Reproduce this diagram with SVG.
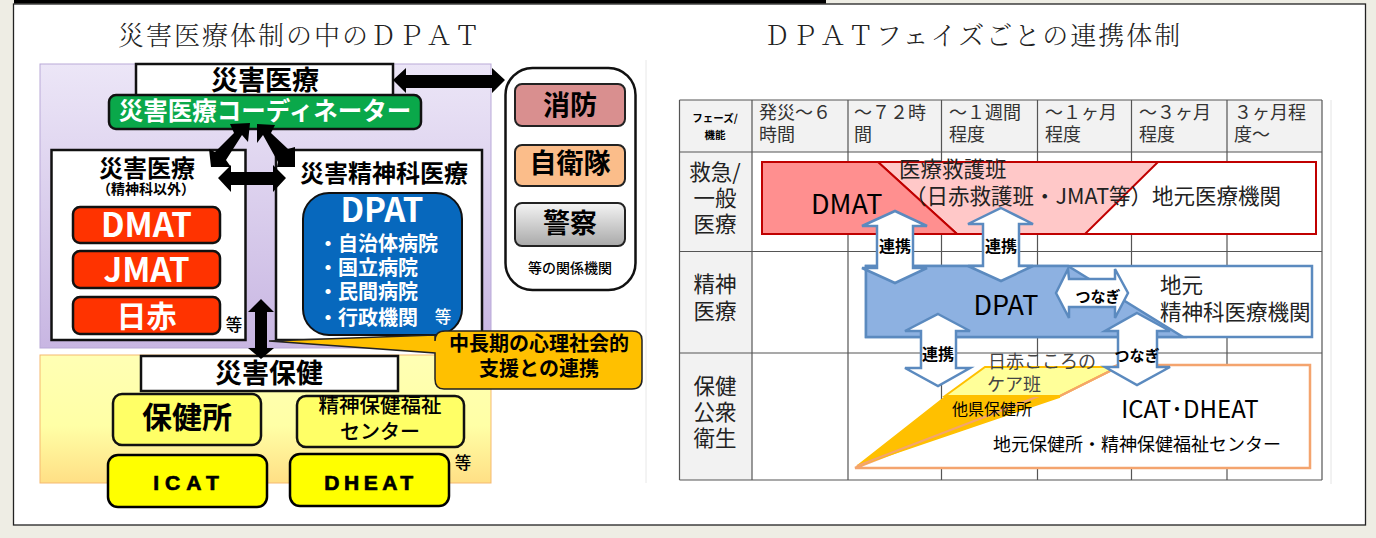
<svg xmlns="http://www.w3.org/2000/svg" width="1376" height="538" viewBox="0 0 1376 538">
<defs>
<linearGradient id="gp" x1="0" y1="0" x2="0" y2="1"><stop offset="0" stop-color="#ece6f7"/><stop offset="1" stop-color="#c8b6e2"/></linearGradient>
<linearGradient id="gy" x1="0" y1="0" x2="0" y2="1"><stop offset="0" stop-color="#ffffb4"/><stop offset="0.55" stop-color="#ffffa6"/><stop offset="1" stop-color="#ffdf85"/></linearGradient>
<linearGradient id="gg" x1="0" y1="0" x2="0" y2="1"><stop offset="0" stop-color="#f4f4f4"/><stop offset="1" stop-color="#a9a9a9"/></linearGradient>
</defs>
<style>
text{font-family:"Noto Sans CJK JP","Noto Sans",sans-serif;text-anchor:middle;fill:#000}
.b{font-weight:700}
.t{font-size:26px;font-weight:300;letter-spacing:2px;fill:#222;font-family:"Noto Serif CJK JP","Noto Sans CJK JP",serif}
.w{fill:#fff;font-weight:700}
.box{fill:#fff;stroke:#111;stroke-width:2.5}
.red{fill:#ff3300;stroke:#111;stroke-width:2.5}
.yl{fill:#ffff66;stroke:#111;stroke-width:2.5}
.yy{fill:#ffff00;stroke:#000;stroke-width:2.5}
.grid{stroke:#555;stroke-width:1.2;fill:none}
.h{font-size:18px;text-anchor:start;fill:#333;font-weight:400}
.r{font-size:21.500px;fill:#222;font-weight:400}
.ar{fill:#fff;stroke:#5b8abf;stroke-width:2.5}
.l{font-size:21.500px;fill:#222;font-weight:400;text-anchor:start}
.k{fill:#000}
.s{stroke:#000;stroke-width:.7}
</style>
<rect width="1376" height="538" fill="#eeede4"/>
<rect x="13.500" y="4" width="1352" height="521" fill="#fff" stroke="#222" stroke-width="1.300"/>
<rect x="14" y="0" width="812" height="3.500" fill="#000"/>
<line x1="646" y1="60" x2="646" y2="483" stroke="#e8e8e8"/>
<line x1="1331" y1="100" x2="1331" y2="484" stroke="#e4e4e4"/>
<text x="300" y="45" class="t">災害医療体制の中のＤＰＡＴ</text>
<text x="973" y="45" class="t">ＤＰＡＴフェイズごとの連携体制</text>

<g id="panel-medical"><rect x="40" y="64" width="451" height="284" fill="url(#gp)" stroke="#b9a9d8"/></g>
<g id="panel-health"><rect x="40" y="355" width="451" height="128" fill="url(#gy)" stroke="#f5b970"/></g>

<g id="node-saigai-iryo"><rect x="136" y="64" width="257" height="32" class="box"/><text x="265" y="90" font-size="27" class="b">災害医療</text></g>
<g id="node-coordinator"><rect x="109" y="95" width="312" height="34" rx="7" fill="#0aa84a" stroke="#111" stroke-width="2.500"/><text x="265" y="120" font-size="24.500" class="w">災害医療コーディネーター</text></g>

<g id="node-general"><rect x="51.500" y="150" width="194" height="190" class="box"/>
<text x="147" y="177" font-size="24" class="b">災害医療</text><text x="146" y="194" font-size="14" class="b">（精神科以外）</text></g>
<g id="node-dmat"><rect x="73" y="207" width="147" height="36" rx="7" class="red"/><text x="146.500" y="237" font-size="33" class="w">DMAT</text></g>
<g id="node-jmat"><rect x="73" y="251" width="147" height="37" rx="7" class="red"/><text x="146.500" y="282" font-size="33" class="w">JMAT</text></g>
<g id="node-nisseki"><rect x="73" y="297" width="147" height="37" rx="7" class="red"/><text x="146.500" y="327" font-size="30" class="w">日赤</text></g>
<text x="234" y="331" font-size="16.500" fill="#222" font-weight="500">等</text>

<g id="node-psy"><rect x="276" y="150" width="206" height="190" class="box"/><text x="384" y="182" font-size="24" class="b">災害精神科医療</text></g>
<g id="node-dpat"><rect x="303" y="193" width="159" height="142" rx="26" fill="#0768bd" stroke="#111" stroke-width="2"/>
<text x="382" y="222" font-size="33" class="w">DPAT</text>
<g font-size="20" class="w"><text x="318" y="251" style="text-anchor:start;fill:#fff">・自治体病院</text><text x="318" y="275" style="text-anchor:start;fill:#fff">・国立病院</text><text x="318" y="299" style="text-anchor:start;fill:#fff">・民間病院</text><text x="318" y="325" style="text-anchor:start;fill:#fff">・行政機関</text></g>
<text x="443" y="323" font-size="16.500" class="w" style="font-weight:500">等</text></g>

<g id="node-others"><rect x="505.500" y="68" width="130" height="222" rx="27" class="box" stroke-width="2"/>
<text x="570" y="273" font-size="14" class="b" fill="#222" style="font-weight:500">等の関係機関</text></g>
<g id="node-fire"><rect x="515" y="84" width="110" height="42" rx="7" fill="#d98f8f" stroke="#222" stroke-width="2"/><text x="570" y="115" font-size="27" class="b">消防</text></g>
<g id="node-sdf"><rect x="515" y="145" width="110" height="41" rx="7" fill="#fbbd8a" stroke="#222" stroke-width="2"/><text x="570" y="173" font-size="27" class="b">自衛隊</text></g>
<g id="node-police"><rect x="515" y="203" width="110" height="43" rx="7" fill="url(#gg)" stroke="#222" stroke-width="2"/><text x="570" y="233" font-size="27" class="b">警察</text></g>

<g id="node-hoken"><rect x="141" y="356" width="257" height="35" class="box"/><text x="269" y="383" font-size="27" class="b">災害保健</text></g>
<g id="node-hokenjo"><rect x="113" y="394" width="148" height="51" rx="9" class="yl"/><text x="187" y="428" font-size="30" class="b">保健所</text></g>
<g id="node-center"><rect x="297" y="396" width="167" height="51" rx="9" class="yl"/><text x="380" y="413" font-size="20.500" style="font-weight:500">精神保健福祉</text><text x="380" y="439" font-size="20" style="font-weight:500">センター</text></g>
<g id="node-icat"><rect x="108" y="455" width="159" height="52" rx="10" class="yy"/><text x="189" y="490" font-size="21" class="b s" letter-spacing="6" style="font-family:'Liberation Sans',sans-serif">ICAT</text></g>
<g id="node-dheat"><rect x="290" y="454" width="159" height="52" rx="10" class="yy"/><text x="371" y="490" font-size="21" class="b s" letter-spacing="4.500" style="font-family:'Liberation Sans',sans-serif">DHEAT</text></g>
<text x="463" y="469" font-size="16.500" fill="#222" font-weight="500">等</text>

<g id="connectors-left">
<polygon class="k" points="393,80 406,68 406,75 492,75 492,68 505,80 492,93 492,88 406,88 406,93"/>
<polygon class="k" points="230,124 250,123 248,142 242,135 226,160 231,167 211,167 209,149 215,152 234,133"/>
<polygon class="k" points="257,124 275,125 271,133 288,149 295,147 295,167 277,167 278,162 263,135 257,143"/>
<polygon class="k" points="218,178 231,165 231,172 273,172 273,165 286,178 273,192 273,185 231,185 231,192"/>
<polygon class="k" points="261,299 274,312 267,312 267,348 274,348 261,359 248,348 255,348 255,312 248,312"/>
</g>
<g id="node-callout">
<path d="M269,341 L435,335 L435,341 Q435,331 445,331 L632,331 Q642,331 642,340 L642,379 Q642,389 632,389 L444,389 Q435,389 435,379 L435,353 Z" fill="#ffc000" stroke="#222" stroke-width="1.500"/>
<text x="539" y="351" font-size="20" class="b">中長期の心理社会的</text><text x="539" y="376" font-size="20" class="b">支援との連携</text></g>

<g id="table">
<rect x="679.500" y="100" width="642" height="52" fill="#f2f2f2"/>
<rect x="679.500" y="152" width="72" height="328" fill="#f2f2f2"/>
<path class="grid" d="M679.500 100H1322M679.500 152H1322M679.500 251.500H1322M679.500 353H1322M679.500 480H1322M679.500 100V480M752 100V480M848 100V480M941.500 100V480M1037.500 100V480M1131.500 100V480M1227 100V480M1322 100V480"/>
<text x="715" y="122" font-size="10.500" class="b" fill="#222">フェーズ/</text><text x="715" y="139" font-size="10.500" class="b" fill="#222">機能</text>
<text class="h" x="759" y="119">発災～６</text><text class="h" x="759" y="141">時間</text>
<text class="h" x="854" y="119">～７２時</text><text class="h" x="854" y="141">間</text>
<text class="h" x="949" y="119">～１週間</text><text class="h" x="949" y="141">程度</text>
<text class="h" x="1045" y="119">～１ヶ月</text><text class="h" x="1045" y="141">程度</text>
<text class="h" x="1139" y="119">～３ヶ月</text><text class="h" x="1139" y="141">程度</text>
<text class="h" x="1234" y="119">３ヶ月程</text><text class="h" x="1234" y="141">度～</text>
<text class="r" x="715" y="180">救急/</text><text class="r" x="715" y="206">一般</text><text class="r" x="715" y="232">医療</text>
<text class="r" x="715" y="292">精神</text><text class="r" x="715" y="319">医療</text>
<text class="r" x="715" y="394">保健</text><text class="r" x="715" y="420">公衆</text><text class="r" x="715" y="446">衛生</text>
</g>

<g id="band-red" stroke="#c00000" stroke-width="2">
<rect x="762" y="162" width="554" height="72" fill="#fff"/>
<polygon points="878,162 1158,162 1085,234 957,234" fill="#ffc8c8"/>
<polygon points="762,162 878,162 957,234 762,234" fill="#ff8f8f"/>
</g>
<text x="811" y="214" font-size="27" fill="#222" font-weight="400" style="text-anchor:start">DMAT</text>
<text class="l" x="899" y="177">医療救護班</text>
<text class="l" x="905" y="204">（日赤救護班・JMAT等）地元医療機関</text>

<g id="band-blue" stroke="#5b8abf" stroke-width="2.500">
<rect x="866" y="266" width="446" height="71" fill="#fff"/>
<polygon points="866,266 1068,266 1183,337 866,337" fill="#8db1e1"/>
</g>
<text x="1006" y="315" font-size="27" fill="#222" font-weight="400">DPAT</text>
<text class="l" x="1160" y="293">地元</text>
<text class="l" x="1160" y="320">精神科医療機関</text>

<g id="band-orange">
<polygon points="855,468 1118,365 1310,365 1310,468" fill="#fff" stroke="#f4a46e" stroke-width="2.500"/>
<polygon points="857,466 945,397 1060,397" fill="#ffc000" stroke="#ffc000" stroke-width="1.500"/>
<line x1="857" y1="466" x2="1060" y2="388" stroke="#f4a46e" stroke-width="2"/>
<polygon points="945,396 985,367 1118,367 1060,396" fill="#ffff99" stroke="#ffc000" stroke-width="2"/>
<line x1="1060" y1="396" x2="1118" y2="367" stroke="#f4a46e" stroke-width="2"/>
</g>
<text class="l" x="988" y="368" style="font-size:18px;fill:#444">日赤こころの</text>
<text class="l" x="987" y="391" style="font-size:18px;fill:#444">ケア班</text>
<text x="992" y="415" font-size="16" fill="#444" font-weight="400">他県保健所</text>
<text x="1190" y="418" font-size="24" fill="#222" font-weight="400">ICAT･DHEAT</text>
<text x="1137" y="451" font-size="18" fill="#444" font-weight="400">地元保健所・精神保健福祉センター</text>

<g id="connectors-right">
<polygon class="ar" points="895,211 927,226 913,226 913,268 927,268 895,283 862,268 877,268 877,226 862,226"/>
<polygon class="ar" points="1001,208 1033,224 1019,224 1019,266 1033,266 1001,281 968,266 983,266 983,224 968,224"/>
<polygon class="ar" points="938,314 970,331 956,331 956,368 970,368 938,386 905,368 921,368 921,331 905,331"/>
<polygon class="ar" points="1137,313 1170,331 1157,331 1157,367 1170,367 1137,385 1105,367 1118,367 1118,331 1105,331"/>
<polygon class="ar" points="1056,293 1068,269 1069,279 1115,279 1115,269 1128,293 1115,318 1115,307 1069,307 1069,318"/>
</g>
<g class="b" fill="#222">
<text x="895" y="252" font-size="16" class="b">連携</text>
<text x="1001" y="252" font-size="16" class="b">連携</text>
<text x="938" y="360" font-size="16" class="b">連携</text>
<text x="1098" y="302" font-size="15" class="b">つなぎ</text>
<text x="1137" y="361" font-size="15" class="b">つなぎ</text>
</g>
</svg>
